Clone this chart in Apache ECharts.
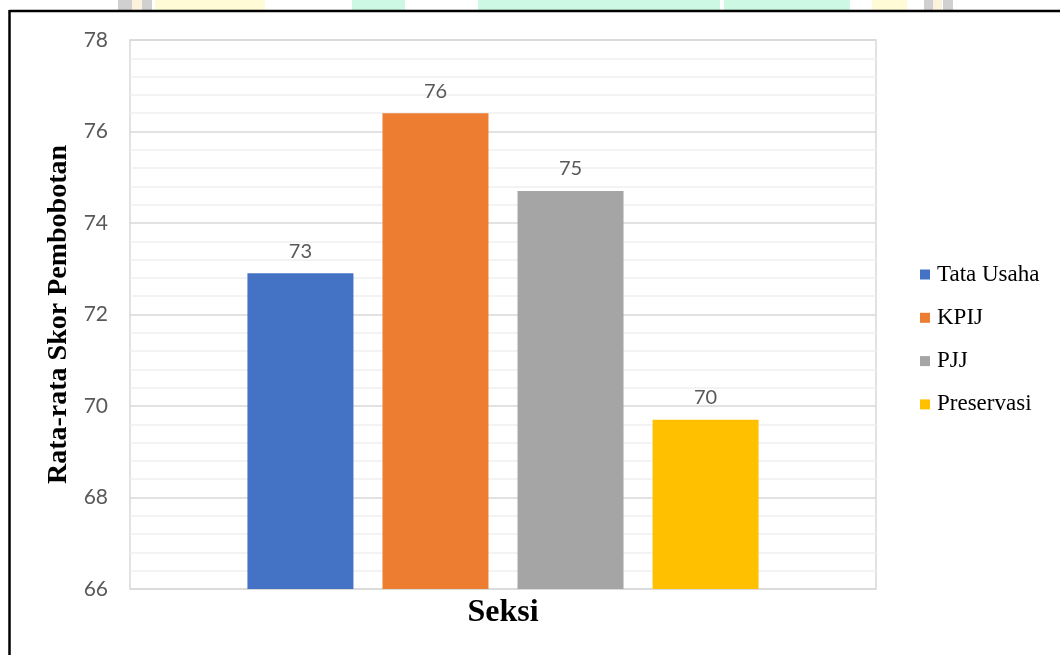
<!DOCTYPE html>
<html>
<head>
<meta charset="utf-8">
<script src="https://cdn.jsdelivr.net/npm/echarts@6/dist/echarts.min.js"></script>
<style>html,body{margin:0;padding:0;background:#fff;}#c{width:1060px;height:655px;}</style>
</head>
<body>
<div id="c"></div>
<script>
const seriesNames = ['Tata Usaha', 'KPIJ', 'PJJ', 'Preservasi'];
const seriesValues = [72.9, 76.4, 74.7, 69.7];
const seriesColors = ['#4472C4', '#ED7D31', '#A5A5A5', '#FFC000'];
const categories = [''];
const yMin = 66, yMax = 78, yStep = 2;

const chart = echarts.init(document.getElementById('c'), null, {renderer: 'canvas'});
const series = seriesNames.map((n, i) => ({
  name: n,
  type: 'bar',
  data: [seriesValues[i]],
  barWidth: 106,
  barGap: '27.4%',
  itemStyle: {color: seriesColors[i]},
  label: {
    show: true, position: 'top', distance: 12,
    color: '#595959', fontSize: 20, fontFamily: 'Lato',
    formatter: p => Math.round(p.value)
  }
}));

const wm = [
  [118, 14, '#d0d0d0'], [132, 10, '#fdf3dc'], [142, 10, '#d0d0d0'],
  [155, 110, '#fffbd6'], [352, 53, '#cdf9e4'], [478, 242, '#cdf9e4'],
  [724, 126, '#cdf9e4'], [872, 35, '#fffbd6'], [924, 9, '#d0d0d0'],
  [933, 9, '#fdf3dc'], [943, 10, '#d0d0d0']
];
const graphics = wm.map(w => ({type: 'rect', shape: {x: w[0], y: 0, width: w[1], height: 10}, style: {fill: w[2]}, silent: true}));
graphics.push({type: 'line', shape: {x1: 9.5, y1: 11, x2: 1060, y2: 11}, style: {stroke: '#000', lineWidth: 2.5}});
graphics.push({type: 'line', shape: {x1: 9.5, y1: 10, x2: 9.5, y2: 655}, style: {stroke: '#000', lineWidth: 2.5}});

chart.setOption({
  animation: false,
  backgroundColor: '#fff',
  graphic: graphics,
  grid: {left: 130, right: 184, top: 40, bottom: 66, show: true, borderColor: '#d9d9d9', borderWidth: 1.5},
  legend: {
    orient: 'vertical', left: 915, top: 258, itemWidth: 10, itemHeight: 10, itemGap: 20.3,
    icon: 'rect',
    textStyle: {fontFamily: 'Liberation Serif', fontSize: 23, color: '#000', padding: [0, 0, 0, 2]},
    data: seriesNames
  },
  xAxis: {
    type: 'category', data: categories,
    axisLine: {show: false}, axisTick: {show: false}, axisLabel: {show: false},
    name: 'Seksi', nameLocation: 'middle', nameGap: 8,
    nameTextStyle: {fontFamily: 'Liberation Serif', fontWeight: 'bold', fontSize: 32, color: '#000', verticalAlign: 'top'}
  },
  yAxis: {
    type: 'value', min: yMin, max: yMax, interval: yStep,
    axisLine: {show: false}, axisTick: {show: false},
    axisLabel: {color: '#595959', fontSize: 21, fontFamily: 'Lato', margin: 22, padding: [4, 0, 0, 0]},
    splitLine: {lineStyle: {color: '#d9d9d9', width: 1.5}},
    minorTick: {show: false, splitNumber: 5},
    minorSplitLine: {show: true, lineStyle: {color: '#efefef', width: 1.5}},
    name: 'Rata-rata Skor Pembobotan', nameLocation: 'middle', nameGap: 56,
    nameTextStyle: {fontFamily: 'Liberation Serif', fontWeight: 'bold', fontSize: 28, color: '#000'}
  },
  series: series
});
</script>
</body>
</html>
